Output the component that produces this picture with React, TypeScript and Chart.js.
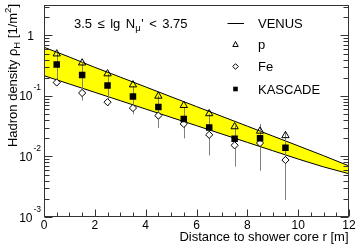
import React, { useEffect, useRef } from "react";
import { Chart, registerables } from "chart.js";
Chart.register(...registerables);

const radii = [0.5, 1.5, 2.5, 3.5, 4.5, 5.5, 6.5, 7.5, 8.5, 9.5];
const pValues = [0.497, 0.352, 0.233, 0.153, 0.0996, 0.0699, 0.0511, 0.0311, 0.0263, 0.0222];
const feValues = [0.167, 0.112, 0.079, 0.0632, 0.0474, 0.0345, 0.0228, 0.0153, 0.0167, 0.00874];
const kascadeValues = [0.33, 0.222, 0.149, 0.0978, 0.0656, 0.0415, 0.0302, 0.0197, 0.0201, 0.0139];
const kascadeErrors = [0.18, 0.138, 0.08, 0.048, 0.036, 0.0216, 0.0198, 0.0129, 0.0143, 0.012];

const bandRadii = [0, 1, 2, 3, 4, 5, 6, 7, 8, 9, 10, 11, 12];
const bandUpper = [0.639, 0.44, 0.297, 0.205, 0.141, 0.097, 0.0668, 0.046, 0.0317, 0.0218, 0.015, 0.0103, 0.00699];
const bandLower = [0.2165, 0.1576, 0.1148, 0.0836, 0.0608, 0.0443, 0.0323, 0.0235, 0.0171, 0.01245, 0.00907, 0.00673, 0.00519];

const xTickValues = [0, 2, 4, 6, 8, 10, 12];
const xTickLabels = ["0", "2", "4", "6", "8", "10", "12"];
const yTickExponents = [-3, -2, -1, 0];
const legendLabels = ["VENUS", "p", "Fe", "KASCADE"];
const xTitle = "Distance to shower core r [m]";

const FONT = "'Liberation Sans', Arial, Helvetica, sans-serif";
const AXIS = "#333";

function pts(xs: number[], ys: number[]) {
  return xs.map((x, i) => ({ x, y: ys[i] }));
}

const decorations = {
  id: "decorations",
  afterDatasetDraw(chart: any, args: any) {
    if (args.index !== 0) return;
    const ctx = chart.ctx;
    const xs = chart.scales.x;
    const ys = chart.scales.y;
    ctx.save();
    ctx.strokeStyle = "#808080";
    ctx.lineWidth = 1;
    radii.forEach((r, i) => {
      const v = kascadeValues[i];
      const e = kascadeErrors[i];
      const px = Math.round(xs.getPixelForValue(r)) + 0.5;
      const lo = Math.max(v - e, ys.min);
      ctx.beginPath();
      ctx.moveTo(px, ys.getPixelForValue(v + e));
      ctx.lineTo(px, ys.getPixelForValue(lo));
      ctx.stroke();
    });
    ctx.restore();
  },
  afterDraw(chart: any) {
    const ctx = chart.ctx;
    const a = chart.chartArea;
    const xs = chart.scales.x;
    const ys = chart.scales.y;
    ctx.save();
    ctx.strokeStyle = AXIS;
    ctx.lineWidth = 1;
    const L = Math.round(a.left) + 0.5;
    const R = Math.round(a.right) - 0.5;
    const T = Math.round(a.top) + 0.5;
    const B = Math.round(a.bottom) - 0.5;
    ctx.strokeRect(L, T, R - L, B - T);
    ctx.beginPath();
    for (let v = 0; v <= 12.001; v += 0.5) {
      const px = Math.round(xs.getPixelForValue(v)) + 0.5;
      const len = Math.abs(v % 2) < 1e-6 ? 7 : 4;
      ctx.moveTo(px, B);
      ctx.lineTo(px, B - len);
    }
    for (const ex of yTickExponents) {
      for (let m = 1; m <= 9; m++) {
        const v = m * Math.pow(10, ex);
        if (v > ys.max * 1.0001) continue;
        const py = Math.round(ys.getPixelForValue(v)) + 0.5;
        const len = m === 1 ? 8 : 5;
        ctx.moveTo(L, py);
        ctx.lineTo(L + len, py);
        ctx.moveTo(R, py);
        ctx.lineTo(R - len, py);
      }
    }
    ctx.stroke();

    ctx.fillStyle = "#000";
    ctx.textBaseline = "alphabetic";
    ctx.font = `12px ${FONT}`;
    ctx.textAlign = "center";
    xTickValues.forEach((v, i) => {
      ctx.fillText(xTickLabels[i], xs.getPixelForValue(v), 228.5);
    });
    for (const ex of yTickExponents) {
      const py = ys.getPixelForValue(Math.pow(10, ex));
      if (ex === 0) {
        ctx.font = `12px ${FONT}`;
        ctx.textAlign = "right";
        ctx.fillText("1", 34, py + 4.5);
      } else {
        ctx.font = `12px ${FONT}`;
        ctx.textAlign = "right";
        ctx.fillText("10", 32.5, py + 4.5);
        ctx.font = `8.5px ${FONT}`;
        ctx.textAlign = "left";
        ctx.fillText(String(ex), 33.5, py - 5.5);
      }
    }
    ctx.font = `13px ${FONT}`;
    ctx.textAlign = "right";
    ctx.fillText(xTitle, 348.5, 240.5);

    // y title (rotated)
    ctx.save();
    const big = `13px ${FONT}`;
    const small = `9.5px ${FONT}`;
    const parts: [string, string, number][] = [
      ["Hadron density \u03c1", big, 0],
      ["H", small, 3],
      [" [1/m", big, 0],
      ["2", small, -5.5],
      ["]", big, 0],
    ];
    let total = 0;
    for (const p of parts) {
      ctx.font = p[1];
      total += ctx.measureText(p[0]).width;
    }
    ctx.translate(16.5, 4 + total);
    ctx.rotate(-Math.PI / 2);
    ctx.textAlign = "left";
    let cx = 0;
    for (const p of parts) {
      ctx.font = p[1];
      ctx.fillText(p[0], cx, p[2]);
      cx += ctx.measureText(p[0]).width;
    }
    ctx.restore();

    // annotation, flow with slightly wider word gaps
    ctx.textAlign = "left";
    const by = 27.7;
    const gap = 5.5;
    const ann: [string, string, number, number][] = [
      ["3.5", `13px ${FONT}`, 0, gap],
      ["\u2264", `13px ${FONT}`, 0, gap],
      ["lg", `13px ${FONT}`, 0, gap],
      ["N", `13px ${FONT}`, 0, 0],
      ["\u03bc", `9.5px ${FONT}`, 3.5, 0.5],
      ["'", `13px ${FONT}`, 0, gap],
      ["<", `13px ${FONT}`, 0, gap],
      ["3.75", `13px ${FONT}`, 0, 0],
    ];
    let ax = 74;
    for (const p of ann) {
      ctx.font = p[1];
      ctx.fillText(p[0], ax, by + p[2]);
      ax += ctx.measureText(p[0]).width + p[3];
    }

    // legend
    const lx = 235.5;
    const tx = 258;
    const rows = [23.3, 44.5, 66.5, 89];
    ctx.font = `13px ${FONT}`;
    ctx.fillStyle = "#000";
    legendLabels.forEach((lab, i) => {
      ctx.fillText(lab, tx, rows[i] + 4.5);
    });
    ctx.strokeStyle = "#000";
    ctx.lineWidth = 1;
    ctx.beginPath();
    ctx.moveTo(227.5, Math.round(rows[0]) + 0.5);
    ctx.lineTo(244, Math.round(rows[0]) + 0.5);
    ctx.stroke();
    let cy = rows[1];
    ctx.beginPath();
    ctx.moveTo(lx, cy - 3);
    ctx.lineTo(lx + 2.7, cy + 2);
    ctx.lineTo(lx - 2.7, cy + 2);
    ctx.closePath();
    ctx.stroke();
    cy = rows[2];
    ctx.beginPath();
    ctx.moveTo(lx, cy - 2.8);
    ctx.lineTo(lx + 2.8, cy);
    ctx.lineTo(lx, cy + 2.8);
    ctx.lineTo(lx - 2.8, cy);
    ctx.closePath();
    ctx.stroke();
    cy = rows[3];
    ctx.fillRect(lx - 2.3, cy - 2.3, 4.6, 4.6);
    ctx.restore();
  },
};

export default function App() {
  const ref = useRef<HTMLCanvasElement>(null);
  useEffect(() => {
    document.body.style.margin = "0";
    const canvas = ref.current!;
    const chart = new Chart(canvas, {
      type: "scatter",
      data: {
        datasets: [
          {
            type: "line",
            label: "VENUS upper",
            data: pts(bandRadii, bandUpper),
            borderColor: "#000",
            borderWidth: 1,
            pointRadius: 0,
            backgroundColor: "#ffff00",
            fill: "+1",
            order: 10,
            tension: 0,
          } as any,
          {
            type: "line",
            label: "VENUS lower",
            data: pts(bandRadii, bandLower),
            borderColor: "#000",
            borderWidth: 1,
            pointRadius: 0,
            fill: false,
            order: 10,
            tension: 0,
          } as any,
          {
            label: "p",
            data: pts(radii, pValues),
            pointStyle: "triangle",
            pointRadius: 4.2,
            pointBorderWidth: 1,
            pointBorderColor: "#000",
            pointBackgroundColor: "rgba(0,0,0,0)",
            order: 3,
          },
          {
            label: "Fe",
            data: pts(radii, feValues),
            pointStyle: "rectRot",
            pointRadius: 3.6,
            pointBorderWidth: 1,
            pointBorderColor: "#000",
            pointBackgroundColor: "#fff",
            order: 2,
          },
          {
            label: "KASCADE",
            data: pts(radii, kascadeValues),
            pointStyle: "rect",
            pointRadius: 4.6,
            pointBorderWidth: 0,
            pointBorderColor: "#000",
            pointBackgroundColor: "#000",
            order: 1,
          },
        ],
      },
      options: {
        responsive: false,
        animation: false,
        events: [],
        layout: { padding: { left: 44, right: 7, top: 1, bottom: 28 } },
        scales: {
          x: { type: "linear", min: 0, max: 12, display: false },
          y: { type: "logarithmic", min: 0.001, max: Math.pow(10, 0.5), display: false },
        },
        plugins: {
          legend: { display: false },
          tooltip: { enabled: false },
          filler: { drawTime: "beforeDatasetsDraw" },
        } as any,
      },
      plugins: [decorations],
    });
    return () => chart.destroy();
  }, []);
  return <canvas ref={ref} width={356} height={245} style={{ display: "block" }} />;
}
